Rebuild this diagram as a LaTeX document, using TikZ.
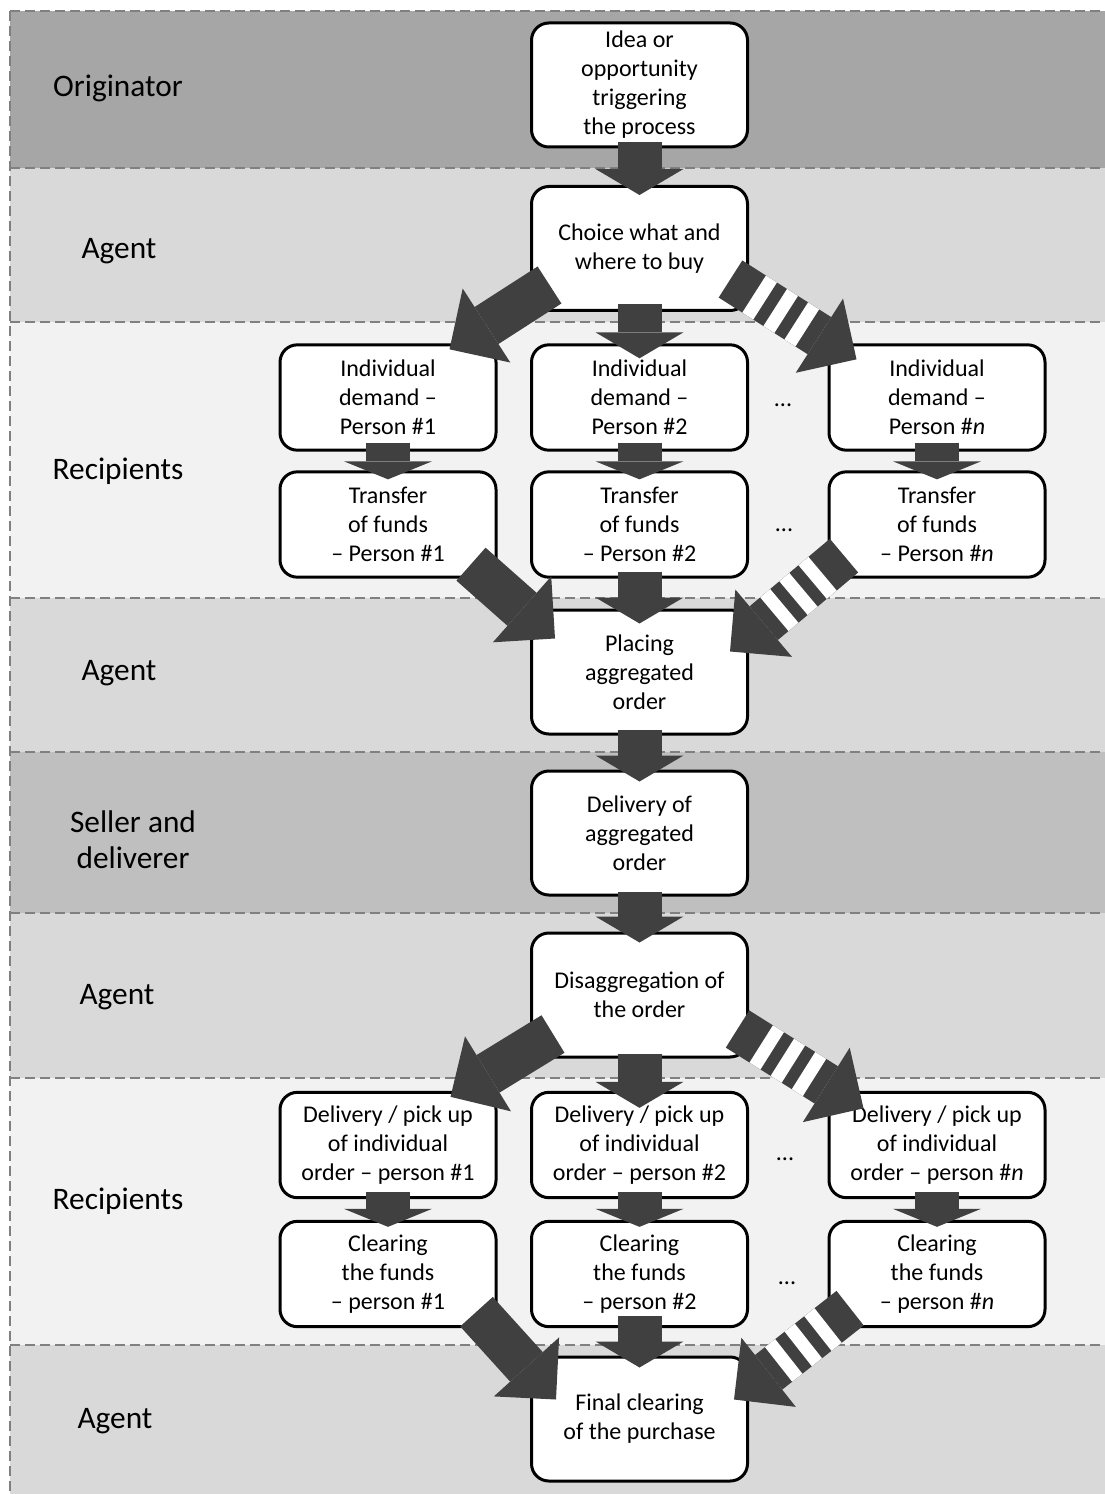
\documentclass[tikz,border=0pt]{standalone}
\usepackage{fontspec}
\setmainfont{Carlito}
\usetikzlibrary{arrows.meta,calc}
\definecolor{origingrey}{HTML}{A6A6A6}
\definecolor{agentgrey}{HTML}{D9D9D9}
\definecolor{recipgrey}{HTML}{F2F2F2}
\definecolor{sellergrey}{HTML}{BFBFBF}
\definecolor{arrowgrey}{HTML}{404040}
\definecolor{laneline}{HTML}{808080}
\newcommand\boxfont{\fontsize{18pt}{21.75pt}\selectfont}
\newcommand\lanefont{\fontsize{23.5pt}{27pt}\selectfont}
\tikzset{
	procbox/.style    = {shape=rectangle, rounded corners=13pt, draw, line width=2.25pt,
		fill=white, align=center, minimum width=162pt, font=\boxfont},
	bigbox/.style     = {procbox, minimum height=93pt},
	smallbox/.style   = {procbox, minimum height=79pt},
	lane/.style       = {align=center, font=\lanefont},
	ellip/.style      = {anchor=base, font=\boxfont},
	blockarrow/.style = {draw=arrowgrey, line width=33pt,
		-{Triangle[length=#1, width=66pt, line width=0pt]}},
	blockarrow/.default = 33pt,
	stripes/.style    = {draw=white, line width=33pt,
		dash pattern=on 0pt off 21pt on 9.75pt off 9pt on 9.75pt off 9pt on 9.75pt off 400pt}
}

\begin{document}
\begin{tikzpicture}[x=0.75pt, y=-0.75pt]
\useasboundingbox (0,0) rectangle (1104,1494);
% swim lanes
\foreach \ytop/\ybot/\shade in {11/168/origingrey, 168/322/agentgrey, 322/598/recipgrey,
	598/752/agentgrey, 752/913/sellergrey, 913/1078/agentgrey, 1078/1345/recipgrey, 1345/1510/agentgrey}
	\fill[\shade] (10,\ytop) rectangle (1120,\ybot);
\foreach \y in {11,168,322,598,752,913,1078,1345}
	\draw[laneline, line width=1.9pt, dash pattern=on 7.5pt off 3.75pt] (10,\y) -- (1120,\y);
\draw[laneline, line width=1.9pt, dash pattern=on 7.5pt off 3.75pt] (10,11) -- (10,1510);

\node[lane] (lane1) at (118,88)  {Originator};
\node[lane] (lane2) at (119,251) {Agent};
\node[lane] (lane3) at (118,471) {Recipients};
\node[lane] (lane4) at (119,673) {Agent};
\node[lane] (lane5) at (133,840) {Seller and\\deliverer};
\node[lane] (lane6) at (117,997) {Agent};
\node[lane] (lane7) at (118,1201) {Recipients};
\node[lane] (lane8) at (115,1421) {Agent};

% steps
\node[bigbox] (idea)   at (639.5,85)    {Idea or\\opportunity\\triggering\\the process};
\node[bigbox] (choice) at (639.5,248.5) {Choice what and\\where to buy};
\node[smallbox] (dem1) at (388,397.5)   {Individual\\demand --\\Person \#1};
\node[smallbox] (dem2) at (639.5,397.5) {Individual\\demand --\\Person \#2};
\node[smallbox] (dem3) at (937,397.5)   {Individual\\demand --\\Person \#\textit{n}};
\node[smallbox] (fund1) at (388,524.5)   {Transfer\\of funds\\-- Person \#1};
\node[smallbox] (fund2) at (639.5,524.5) {Transfer\\of funds\\-- Person \#2};
\node[smallbox] (fund3) at (937,524.5)   {Transfer\\of funds\\-- Person \#\textit{n}};
\node[bigbox] (placing)  at (639.5,672) {Placing\\aggregated\\order};
\node[bigbox] (delivery) at (639.5,833) {Delivery of\\aggregated\\order};
\node[bigbox] (disagg)   at (639.5,995) {Disaggregation of\\the order};
\node[smallbox] (pick1) at (388,1145)   {Delivery / pick up\\of individual\\order -- person \#1};
\node[smallbox] (pick2) at (639.5,1145) {Delivery / pick up\\of individual\\order -- person \#2};
\node[smallbox] (pick3) at (937,1145)   {Delivery / pick up\\of individual\\order -- person \#\textit{n}};
\node[smallbox] (clear1) at (388,1274)   {Clearing\\the funds\\-- person \#1};
\node[smallbox] (clear2) at (639.5,1274) {Clearing\\the funds\\-- person \#2};
\node[smallbox] (clear3) at (937,1274)   {Clearing\\the funds\\-- person \#\textit{n}};
\node[bigbox] (final) at (639.5,1419) {Final clearing\\of the purchase};

\node[ellip] (dots1) at (783,406)  {...};
\node[ellip] (dots2) at (784,531)  {...};
\node[ellip] (dots3) at (785,1160) {...};
\node[ellip] (dots4) at (787,1284) {...};

% straight arrows
\draw[blockarrow=19.5pt] ($(idea.south)+(0,-6)$) -- ($(choice.north)+(0,10)$);
\draw[blockarrow=19.5pt] ($(choice.south)+(0,-8)$) -- ($(dem2.north)+(0,15)$);
\foreach \i in {1,2,3}
	\draw[blockarrow=13.5pt] ($(dem\i.south)+(0,-9)$) -- ($(fund\i.north)+(0,9)$);
\draw[blockarrow=19.5pt] ($(fund2.south)+(0,-7)$) -- ($(placing.north)+(0,15)$);
\draw[blockarrow=19.5pt] ($(placing.south)+(0,-6)$) -- ($(delivery.north)+(0,12)$);
\draw[blockarrow=19.5pt] ($(delivery.south)+(0,-5)$) -- ($(disagg.north)+(0,11)$);
\draw[blockarrow=19.5pt] ($(disagg.south)+(0,-5)$) -- ($(pick2.north)+(0,17)$);
\foreach \i in {1,2,3}
	\draw[blockarrow=13.5pt] ($(pick\i.south)+(0,-7)$) -- ($(clear\i.north)+(0,7)$);
\draw[blockarrow=19.5pt] ($(clear2.south)+(0,-12)$) -- ($(final.north)+(0,12)$);

% slanted arrows, the striped ones stand for person n
\draw[blockarrow] ($(choice.south west)+(19.5,-27)$) -- ($(dem1.north east)+(-48,6)$);
\draw[blockarrow] ($(choice.south east)+(-18.5,-33)$) -- ($(dem3.north west)+(29,16)$);
\draw[stripes]    ($(choice.south east)+(-18.5,-33)$) -- ($(dem3.north west)+(29,16)$);
\draw[blockarrow] ($(fund1.south east)+(-26.5,-14.5)$) -- ($(placing.north west)+(25,30)$);
\draw[blockarrow] ($(fund3.south west)+(16.5,-23)$) -- ($(placing.north east)+(-19,43)$);
\draw[stripes]    ($(fund3.south west)+(16.5,-23)$) -- ($(placing.north east)+(-19,43)$);
\draw[blockarrow] ($(disagg.south west)+(23,-24.5)$) -- ($(pick1.north east)+(-47,6)$);
\draw[blockarrow] ($(disagg.south east)+(-11.5,-29.5)$) -- ($(pick3.north west)+(36,17.5)$);
\draw[stripes]    ($(disagg.south east)+(-11.5,-29.5)$) -- ($(pick3.north west)+(36,17.5)$);
\draw[blockarrow] ($(clear1.south east)+(-21,-16.5)$) -- ($(final.north west)+(26,44)$);
\draw[blockarrow] ($(clear3.south west)+(22.6,-20)$) -- ($(final.north east)+(-15,44)$);
\draw[stripes]    ($(clear3.south west)+(22.6,-20)$) -- ($(final.north east)+(-15,44)$);
\end{tikzpicture}
\end{document}
